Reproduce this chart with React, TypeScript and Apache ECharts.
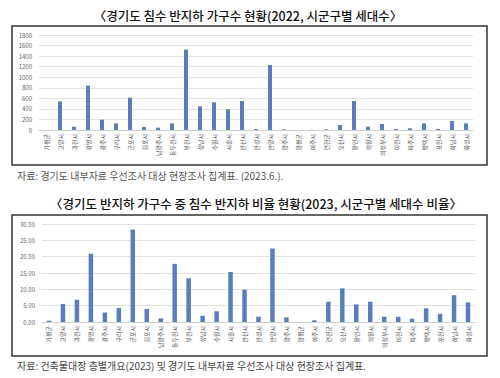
import React, { useEffect, useRef } from "react";
import * as echarts from "echarts";

const cities = ["가평군", "고양시", "과천시", "광명시", "광주시", "구리시", "군포시", "김포시", "남양주시", "동두천시", "부천시", "성남시", "수원시", "시흥시", "안산시", "안성시", "안양시", "양주시", "양평군", "여주시", "연천군", "오산시", "용인시", "의왕시", "의정부시", "이천시", "파주시", "평택시", "포천시", "하남시", "화성시"];

const flooded2022 = [0, 543, 63, 840, 196, 126, 613, 57, 44, 126, 1522, 448, 524, 392, 550, 19, 1232, 13, 0, 3, 13, 95, 550, 63, 114, 19, 32, 126, 19, 170, 126];

const ratio2023 = [0.4, 5.5, 6.8, 20.9, 2.9, 4.3, 28.3, 4.0, 1.1, 17.8, 13.4, 1.9, 3.3, 15.3, 9.9, 1.6, 22.5, 1.4, 0, 0.5, 6.2, 10.3, 5.4, 6.2, 1.6, 1.6, 1.0, 4.2, 2.5, 8.2, 6.0];

const title1 = "〈경기도 침수 반지하 가구수 현황(2022, 시군구별 세대수〉";
const title2 = "〈경기도 반지하 가구수 중 침수 반지하 비율 현황(2023, 시군구별 세대수 비율〉";
const source1 = "자료: 경기도 내부자료 우선조사 대상 현장조사 집계표. (2023.6.).";
const source2 = "자료: 건축물대장 층별개요(2023) 및 경기도 내부자료 우선조사 대상 현장조사 집계표.";

const FONT = "'Noto Sans CJK KR', 'Noto Sans', sans-serif";
const BAR = "#5a7dbb";

export default function App() {
  const ref = useRef<HTMLDivElement>(null);
  useEffect(() => {
    if (!ref.current) return;
    const chart = echarts.init(ref.current, null, { renderer: "svg" });
    const xAxisCommon = {
      type: "category" as const,
      data: cities,
      axisTick: { show: false },
      axisLine: { lineStyle: { color: "#d0d0d0" } },
      axisLabel: { rotate: 90, interval: 0, fontSize: 6, color: "#555", fontFamily: FONT, margin: 4 },
    };
    const yLabel = { fontSize: 6, color: "#666", fontFamily: FONT, margin: 7 };
    chart.setOption({
      animation: false,
      backgroundColor: "#fff",
      grid: [
        { left: 39, right: 27, top: 35, bottom: 248 },
        { left: 42, right: 25, top: 224, bottom: 56 },
      ],
      xAxis: [
        { ...xAxisCommon, gridIndex: 0 },
        { ...xAxisCommon, gridIndex: 1 },
      ],
      yAxis: [
        {
          type: "value", gridIndex: 0, min: 0, max: 1800, interval: 200,
          axisLabel: { ...yLabel, formatter: (v: number) => String(v) },
          axisLine: { show: false }, axisTick: { show: false },
          splitLine: { lineStyle: { color: "#e2e2e2" } },
        },
        {
          type: "value", gridIndex: 1, min: 0, max: 30, interval: 5,
          axisLabel: { ...yLabel, formatter: (v: number) => v.toFixed(2) },
          axisLine: { show: false }, axisTick: { show: false },
          splitLine: { lineStyle: { color: "#e2e2e2" } },
        },
      ],
      series: [
        { type: "bar", xAxisIndex: 0, yAxisIndex: 0, data: flooded2022, barWidth: 4, itemStyle: { color: BAR } },
        { type: "bar", xAxisIndex: 1, yAxisIndex: 1, data: ratio2023, barWidth: 4.5, itemStyle: { color: BAR } },
      ],
      graphic: [
        { type: "rect", shape: { x: 12, y: 26, width: 475, height: 139 }, style: { fill: "none", stroke: "#333", lineWidth: 1.5 }, z: 10 },
        { type: "rect", shape: { x: 12, y: 215, width: 475, height: 141 }, style: { fill: "none", stroke: "#333", lineWidth: 1.5 }, z: 10 },
        { type: "text", x: 248, y: 15, style: { text: title1, textAlign: "center", textVerticalAlign: "middle", fontSize: 12.5, fontFamily: FONT, fontWeight: 500, fill: "#111" } },
        { type: "text", x: 256, y: 203, style: { text: title2, textAlign: "center", textVerticalAlign: "middle", fontSize: 12.5, fontFamily: FONT, fontWeight: 500, fill: "#111" } },
        { type: "text", x: 17, y: 175, style: { text: source1, textAlign: "left", textVerticalAlign: "middle", fontSize: 10, fontFamily: FONT, fill: "#555" } },
        { type: "text", x: 17, y: 365, style: { text: source2, textAlign: "left", textVerticalAlign: "middle", fontSize: 10, fontFamily: FONT, fill: "#444" } },
      ],
    });
    return () => chart.dispose();
  }, []);
  return <div ref={ref} style={{ position: "absolute", left: 0, top: 0, width: 500, height: 378 }} />;
}
